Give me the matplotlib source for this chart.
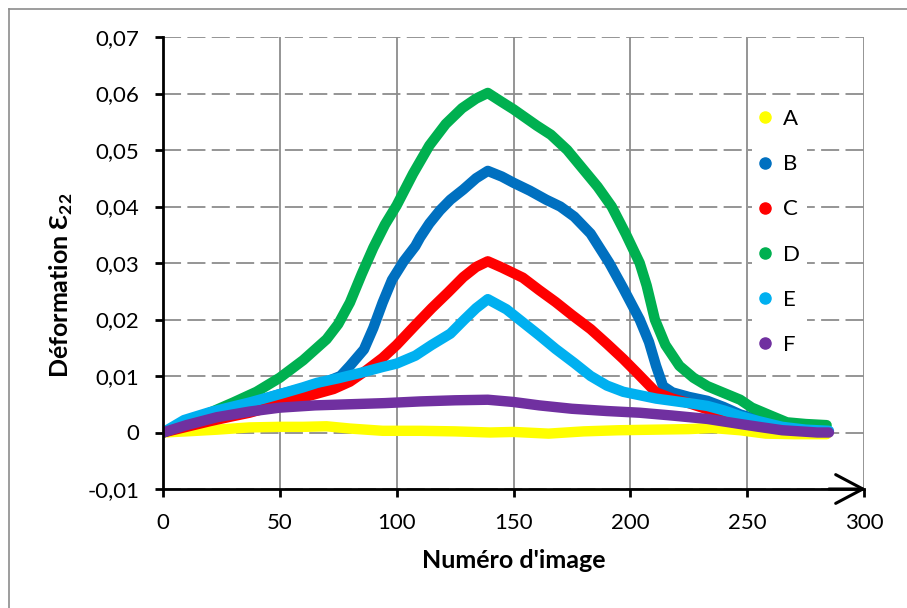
import matplotlib
matplotlib.use("Agg")
import matplotlib.pyplot as plt
from matplotlib.lines import Line2D

plt.rcParams['font.family'] = ['Lato', 'DejaVu Sans']
plt.rcParams['mathtext.fontset'] = 'custom'
plt.rcParams['mathtext.rm'] = 'Lato'
plt.rcParams['mathtext.bf'] = 'Lato:bold'

# values (numero d'image, deformation)
a_x = [0, 10, 23, 37, 50, 60, 70, 80, 94, 110, 125, 140, 150, 165, 180, 195, 210, 225, 235, 247, 258, 270, 284]
a_y = [0, 0.0002, 0.0005, 0.0009, 0.0010, 0.0010, 0.0011, 0.0007, 0.0003, 0.0003, 0.0002, 0.0000, 0.0001,
       -0.0002, 0.0002, 0.0004, 0.0005, 0.0006, 0.0008, 0.0004, -0.0002, -0.0003, -0.0003]

b_x = [0, 10, 20, 30, 40, 50, 60, 70, 76, 80, 86, 90, 94, 98, 103, 108, 110, 114, 118.5, 123, 128.5, 134, 139,
       145, 150, 157, 164, 170, 176, 183, 191, 197, 204, 208, 211, 214, 218, 225, 233, 240, 247, 255, 265, 275, 284]
b_y = [0, 0.0014, 0.0028, 0.0042, 0.0055, 0.0068, 0.0078, 0.0090, 0.0100, 0.0118, 0.0147, 0.0185, 0.0230, 0.0270,
       0.0303, 0.0330, 0.0345, 0.0370, 0.0393, 0.0412, 0.0430, 0.0450, 0.0463, 0.0453, 0.0442, 0.0428, 0.0412,
       0.0400, 0.0382, 0.0352, 0.0300, 0.0255, 0.0200, 0.0160, 0.0118, 0.0082, 0.0071, 0.0063, 0.0056, 0.0045,
       0.0032, 0.0022, 0.0012, 0.0008, 0.0005]

c_x = [0, 10, 20, 30, 37, 50, 60, 73, 80, 87, 94, 100, 108, 115, 122, 128.5, 134, 139, 145, 154, 161, 168, 175,
       183, 190, 197, 203, 207, 211, 218, 225, 233, 240, 250, 260, 270, 284]
c_y = [0, 0.0010, 0.0020, 0.0029, 0.0035, 0.0050, 0.0062, 0.0077, 0.0090, 0.0110, 0.0132, 0.0155, 0.0190, 0.0220,
       0.0248, 0.0275, 0.0293, 0.0303, 0.0292, 0.0274, 0.0252, 0.0231, 0.0208, 0.0183, 0.0157, 0.0130, 0.0105,
       0.0088, 0.0071, 0.0060, 0.0052, 0.0041, 0.0032, 0.0020, 0.0010, 0.0005, 0.0002]

d_x = [0, 5, 10, 20, 30, 40, 50, 60, 70, 75, 80, 85, 90, 95, 100, 107, 114, 121, 128, 134, 139, 145, 150, 160,
       166, 173, 180, 186, 192, 198, 204, 207, 210.5, 215, 221, 227, 233, 240, 247, 252, 260, 267, 275, 284]
d_y = [0, 0.0008, 0.0019, 0.0035, 0.0053, 0.0072, 0.0097, 0.0128, 0.0165, 0.0192, 0.0230, 0.0280, 0.0327, 0.0368,
       0.0402, 0.0458, 0.0508, 0.0546, 0.0574, 0.0591, 0.0601, 0.0585, 0.0572, 0.0543, 0.0527, 0.0500, 0.0465,
       0.0435, 0.0400, 0.0352, 0.0300, 0.0260, 0.0200, 0.0155, 0.0118, 0.0097, 0.0082, 0.0070, 0.0058, 0.0044,
       0.0030, 0.0018, 0.0015, 0.0013]

e_x = [0, 9, 20, 30, 37, 50, 60, 66, 75, 85, 94, 100, 108, 115, 123, 129, 134, 139, 147, 154, 161, 168, 176, 183,
       190, 197, 204, 211, 218, 225, 233, 240, 247, 255, 265, 275, 285]
e_y = [0, 0.0022, 0.0036, 0.0046, 0.0053, 0.0068, 0.0080, 0.0088, 0.0096, 0.0106, 0.0116, 0.0122, 0.0136, 0.0155,
       0.0175, 0.0200, 0.0220, 0.0236, 0.0218, 0.0195, 0.0172, 0.0148, 0.0123, 0.0100, 0.0083, 0.0072, 0.0066,
       0.0060, 0.0056, 0.0052, 0.0047, 0.0039, 0.0029, 0.0020, 0.0010, 0.0005, 0.0003]

f_x = [0, 10, 23, 37, 50, 65, 80, 95, 110, 125, 139, 150, 161, 175, 190, 204, 218, 233, 247, 255, 265, 280, 285]
f_y = [0, 0.0013, 0.0027, 0.0037, 0.0044, 0.0048, 0.0050, 0.0052, 0.0055, 0.0057, 0.0058, 0.0054, 0.0048, 0.0042,
       0.0038, 0.0035, 0.0030, 0.0024, 0.0015, 0.0010, 0.0004, 0.0000, 0.0000]

names = ['A', 'B', 'C', 'D', 'E', 'F']
colors = ['#FFFF00', '#0070C0', '#FF0000', '#00B050', '#00B0F0', '#7030A0']
series = [(a_x, a_y), (b_x, b_y), (c_x, c_y), (d_x, d_y), (e_x, e_y), (f_x, f_y)]

x_ticks = [0, 50, 100, 150, 200, 250, 300]
y_ticks = [-0.01, 0, 0.01, 0.02, 0.03, 0.04, 0.05, 0.06, 0.07]
y_labels = ['-0,01', '0', '0,01', '0,02', '0,03', '0,04', '0,05', '0,06', '0,07']

fig = plt.figure(figsize=(9.07, 6.08), dpi=100)
ax = fig.add_axes([163 / 907, 1 - 489 / 608, 701 / 907, 452 / 608])

for (xs, ys), c, n in zip(series, colors, names):
    ax.plot(xs, ys, color=c, lw=7.5, solid_capstyle='round', solid_joinstyle='round', zorder=3)

ax.set_xlim(0, 300)
ax.set_ylim(-0.01, 0.07)
ax.set_xticks(x_ticks)
ax.set_yticks(y_ticks)
ax.set_yticklabels(y_labels)

ax.grid(axis='x', color='#8c8c8c', lw=1.3, ls='-', zorder=1)
ax.grid(axis='y', color='#8c8c8c', lw=1.3, ls=(0, (10, 3.5)), zorder=1)
ax.set_axisbelow(True)

for s in ['top', 'right']:
    ax.spines[s].set_visible(False)
for s in ['left', 'bottom']:
    ax.spines[s].set_linewidth(2)
    ax.spines[s].set_color('black')
    ax.spines[s].set_zorder(4)

ax.tick_params(axis='both', direction='out', length=6, width=2, labelsize=16, pad=11, colors='black')

ax.annotate('', xy=(1.003, 0), xytext=(0.95, 0), xycoords='axes fraction',
            arrowprops=dict(arrowstyle='->,head_length=0.85,head_width=0.45', lw=2.2, color='black',
                            mutation_scale=23, shrinkA=0, shrinkB=0), zorder=5, annotation_clip=False)

ax.set_xlabel("Numéro d'image", fontsize=18, fontweight='bold', labelpad=12)
ax.set_ylabel(r"Déformation Ɛ$_\mathbf{22}$", fontsize=18, fontweight='bold')
ax.yaxis.set_label_coords(-0.126, 0.45)

handles = [Line2D([], [], ls='none', marker='o', ms=8, color=c) for c in colors]
leg = ax.legend(handles, names, loc='upper left', bbox_to_anchor=(0.84, 0.855), fontsize=16,
                frameon=True, fancybox=False, facecolor='white', edgecolor='none', framealpha=1,
                handlelength=0.6, handletextpad=0.5, labelspacing=1.13, borderpad=0.3, borderaxespad=0)
leg.set_zorder(2)

# light frame around the chart area
fig.add_artist(Line2D([9 / 907, 9 / 907], [0, 1 - 9 / 608], color='#8c8c8c', lw=1.2))
fig.add_artist(Line2D([9 / 907, 1], [1 - 9 / 608, 1 - 9 / 608], color='#8c8c8c', lw=1.2))

fig.savefig('out.png', dpi=100, facecolor='white')
